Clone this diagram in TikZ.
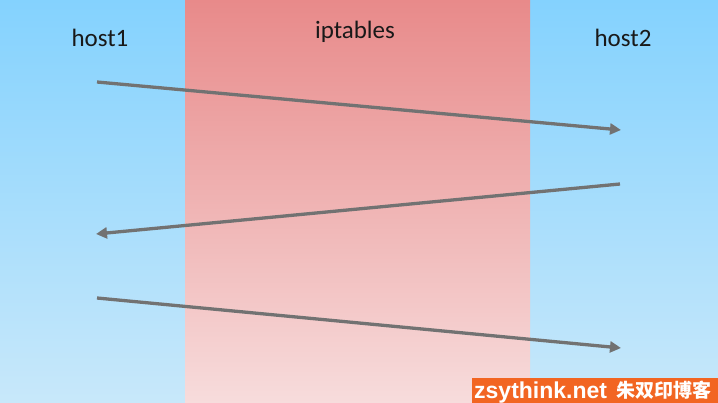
\documentclass[tikz,border=0pt]{standalone}
\usepackage{fontspec}
\setmainfont{Carlito}
\newfontfamily\wmfont{Liberation Sans}
\newfontfamily\cjkfont{Noto Sans CJK SC}
\usetikzlibrary{arrows.meta}
\definecolor{bluetop}{HTML}{84D2FE}
\definecolor{bluebot}{HTML}{C8E8FA}
\definecolor{redtop}{HTML}{E88A8A}
\definecolor{redbot}{HTML}{F7DCDC}
\definecolor{arrowgray}{HTML}{727272}
\definecolor{wmorange}{HTML}{F26522}
\begin{document}
\begin{tikzpicture}[x=1pt,y=-1pt,
  label/.style={font=\fontsize{25}{28}\selectfont, text=black!90, inner sep=0pt, anchor=base},
  flow/.style={draw=arrowgray, line width=3.3pt, -{Triangle[length=11pt,width=11pt]}}]
\useasboundingbox (0,0) rectangle (718,403);
\shade[top color=bluetop, bottom color=bluebot] (0,0) rectangle (718,403);
\shade[top color=redtop, bottom color=redbot] (185,0) rectangle (530,403);
\node[label] (h1) at (100,47) {host1};
\node[label] (ipt) at (355,39) {iptables};
\node[label] (h2) at (623,47) {host2};
\coordinate (a1) at (97,82);
\coordinate (b1) at (621,130);
\coordinate (a2) at (620,184);
\coordinate (b2) at (96,234);
\coordinate (a3) at (97,298);
\coordinate (b3) at (621,348);
\draw[flow] (a1) -- (b1);
\draw[flow] (a2) -- (b2);
\draw[flow] (a3) -- (b3);
\fill[wmorange] (472,378) rectangle (718,403);
\node[anchor=base west, inner sep=0pt, text=white, font=\wmfont\bfseries\fontsize{23}{24}\selectfont] (wm1) at (474,399) {zsythink.net};
\node[anchor=base east, inner sep=0pt, text=white, font=\cjkfont\bfseries\fontsize{19}{20}\selectfont] (wm2) at (712,398) {朱双印博客};
\end{tikzpicture}
\end{document}
